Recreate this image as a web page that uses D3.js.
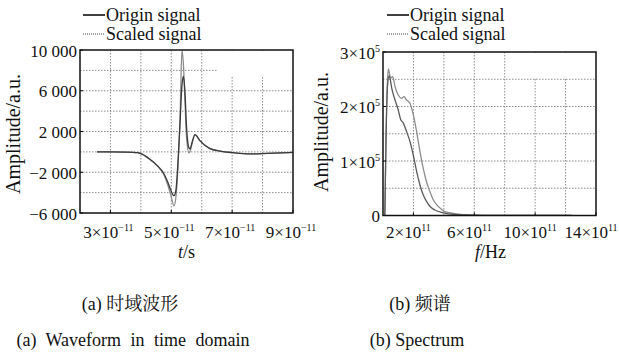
<!DOCTYPE html>
<html>
<head>
<meta charset="utf-8">
<script src="https://cdn.jsdelivr.net/npm/d3@7"></script>
<style>
  body { margin: 0; background: #fff; }
</style>
</head>
<body>
<div id="chart"></div>
<script>
// ----------- DATA ------------
// time domain, t in units of 1e-11 s
const timeT = [2.56, 3.0, 3.5, 3.9, 4.23, 4.56, 4.73, 4.89, 4.99, 5.09, 5.15, 5.22, 5.29, 5.35, 5.40, 5.45, 5.50, 5.58, 5.62, 5.68, 5.78, 5.94, 6.27, 6.6, 7.03, 7.59, 8.15, 9.0];
const originWave = [0, 0, -20, -80, -570, -1400, -2000, -3000, -3800, -4300, -3800, -1000, 3000, 6500, 7400, 5800, 2500, 400, 300, 900, 1700, 1100, 320, 80, -80, -200, -150, -50];
const scaledWave = [0, 0, -20, -80, -600, -1450, -2100, -3300, -4300, -5300, -4500, -1500, 3500, 10000, 8500, 5000, 1500, -100, 50, 800, 1700, 1100, 320, 80, -80, -200, -150, -50];

// spectrum, f in units of 1e11 Hz, amplitude in units of 1e5
const specFScaled = [0.12, 0.2, 0.3, 0.35, 0.50, 0.64, 0.79, 1.0, 1.22, 1.38, 1.55, 1.77, 1.99, 2.21, 2.43, 2.64, 2.86, 3.08, 3.30, 3.52, 3.74, 4.07, 4.61, 5.49, 7.0, 12.4];
const specScaled = [0, 1.5, 2.5, 2.69, 2.52, 2.55, 2.37, 2.21, 2.15, 2.18, 2.12, 2.06, 1.85, 1.54, 1.17, 0.87, 0.62, 0.44, 0.29, 0.20, 0.14, 0.07, 0.04, 0.01, 0, 0];
const specFOrigin = [0.12, 0.2, 0.3, 0.40, 0.46, 0.57, 0.79, 1.0, 1.16, 1.33, 1.55, 1.77, 1.99, 2.21, 2.43, 2.64, 2.86, 3.08, 3.41, 3.96, 4.61, 5.5, 7.0, 12.4];
const specOrigin = [0, 1.4, 2.4, 2.56, 2.52, 2.34, 2.12, 1.94, 1.76, 1.70, 1.54, 1.36, 1.11, 0.81, 0.56, 0.38, 0.26, 0.17, 0.10, 0.05, 0.02, 0.01, 0, 0];

const timeYTicks = [10000, 6000, 2000, -2000, -6000];
const timeYLabels = ['10 000', '6 000', '2 000', '\u22122 000', '\u22126 000'];
const timeXTicks = [3, 5, 7, 9];
const specYTicks = [3, 2, 1, 0];
const specXTicks = [2, 6, 10, 14];

const legendNames = ['Origin signal', 'Scaled signal'];
const captionTags = ['(a) ', '(b) '];
const captionsCn = ['时域波形', '频谱'];
const captionsEn = ['(a) Waveform in time domain', '(b) Spectrum'];

// ----------- SVG ------------
const svg = d3.select('#chart').append('svg').attr('width', 619).attr('height', 356);

const serif = 'Liberation Serif';
const originColor = '#3a3a3a';
const scaledColor = '#8c8c8c';
const gridColor = '#707070';

function panel(opts) {
  const x = d3.scaleLinear().domain(opts.xDomain).range([opts.x0, opts.x1]);
  const y = d3.scaleLinear().domain(opts.yDomain).range([opts.y1, opts.y0]);
  const g = svg.append('g').attr('font-family', serif);

  // grid
  g.append('g').selectAll('line').data(opts.gridX).enter().append('line')
    .attr('x1', d => x(d)).attr('x2', d => x(d))
    .attr('y1', opts.y0).attr('y2', opts.y1)
    .attr('stroke', gridColor).attr('stroke-width', 0.8).attr('stroke-dasharray', '1.5,1.5');
  g.append('g').selectAll('line').data(opts.gridY).enter().append('line')
    .attr('y1', d => y(d)).attr('y2', d => y(d))
    .attr('x1', opts.x0).attr('x2', opts.x1)
    .attr('stroke', gridColor).attr('stroke-width', 0.8).attr('stroke-dasharray', '1.5,1.5');

  // blank patch left by the original legend box
  g.append('rect')
    .attr('x', opts.mask[0]).attr('y', opts.y0 + 1)
    .attr('width', opts.x1 - opts.mask[0] - 1).attr('height', opts.mask[1] - opts.y0)
    .attr('fill', '#fff');

  // lines
  const clipId = 'clip' + opts.id;
  svg.append('clipPath').attr('id', clipId).append('rect')
    .attr('x', opts.x0).attr('y', opts.y0)
    .attr('width', opts.x1 - opts.x0).attr('height', opts.y1 - opts.y0);
  opts.series.forEach(s => {
    const line = d3.line().x((d, i) => x(s.xs[i])).y(d => y(d)).curve(d3.curveMonotoneX);
    g.append('path')
      .attr('d', line(s.ys))
      .attr('fill', 'none')
      .attr('stroke', s.color)
      .attr('stroke-width', 1.3)
      .attr('clip-path', `url(#${clipId})`);
  });

  // small inner ticks
  g.append('g').selectAll('line').data(opts.xTicks).enter().append('line')
    .attr('x1', d => x(d)).attr('x2', d => x(d))
    .attr('y1', opts.y1).attr('y2', opts.y1 - 3)
    .attr('stroke', '#000').attr('stroke-width', 1);
  g.append('g').selectAll('line').data(opts.yTicks).enter().append('line')
    .attr('y1', d => y(d)).attr('y2', d => y(d))
    .attr('x1', opts.x0).attr('x2', opts.x0 + 3)
    .attr('stroke', '#000').attr('stroke-width', 1);

  // frame
  g.append('rect')
    .attr('x', opts.x0).attr('y', opts.y0)
    .attr('width', opts.x1 - opts.x0).attr('height', opts.y1 - opts.y0)
    .attr('fill', 'none').attr('stroke', '#111').attr('stroke-width', 1.5);

  // y tick labels
  opts.yTicks.forEach((v, i) => {
    const t = g.append('text')
      .attr('x', opts.x0 - 3).attr('y', y(v) + 6.5)
      .attr('text-anchor', 'end').attr('font-size', 17).attr('fill', '#111');
    const lab = opts.yLabel(v, i);
    t.append('tspan').text(lab[0]);
    if (lab[1]) t.append('tspan').attr('font-size', 10).attr('dy', -7).text(lab[1]);
  });

  // x tick labels
  opts.xTicks.forEach(v => {
    const t = g.append('text')
      .attr('x', x(v) + opts.xLabelShift).attr('y', 238)
      .attr('text-anchor', 'middle').attr('font-size', 17).attr('fill', '#111');
    t.append('tspan').text(v + '\u00d710');
    t.append('tspan').attr('font-size', 10).attr('dy', -7).text(opts.xExp);
  });

  // axis titles
  const xt = g.append('text')
    .attr('x', (opts.x0 + opts.x1) / 2 + opts.xTitleShift).attr('y', 258)
    .attr('text-anchor', 'middle').attr('font-size', 18).attr('fill', '#111');
  xt.append('tspan').attr('font-style', 'italic').text(opts.xTitle[0]);
  xt.append('tspan').text(opts.xTitle[1]);

  g.append('text')
    .attr('transform', `translate(${opts.yTitleX},${opts.yTitleY}) rotate(-90)`)
    .attr('text-anchor', 'middle').attr('font-size', 20).attr('fill', '#111')
    .text('Amplitude/a.u.');

  // legend
  legendNames.forEach((name, i) => {
    const ly = 15 + i * 19;
    g.append('line')
      .attr('x1', opts.legendX).attr('x2', opts.legendX + 22)
      .attr('y1', ly).attr('y2', ly)
      .attr('stroke', i === 0 ? '#111' : '#444')
      .attr('stroke-width', i === 0 ? 1.6 : 1)
      .attr('stroke-dasharray', i === 0 ? null : '1,1');
    g.append('text')
      .attr('x', opts.legendX + 23).attr('y', ly + 6)
      .attr('font-size', 18).attr('fill', '#111')
      .text(name);
  });
}

panel({
  id: 'a',
  x0: 80, x1: 293, y0: 50, y1: 213,
  xDomain: [2, 9], yDomain: [-6000, 10000],
  gridX: [3, 4, 5, 6, 7, 8], gridY: [-4000, -2000, 0, 2000, 4000, 6000, 8000],
  mask: [218, 76],
  xTicks: timeXTicks, yTicks: timeYTicks,
  yLabel: (v, i) => [timeYLabels[i]],
  xExp: '\u221211', xLabelShift: -2,
  xTitle: ['t', '/s'], xTitleShift: 0,
  yTitleX: 20, yTitleY: 134,
  legendX: 83,
  series: [
    { xs: timeT, ys: scaledWave, color: scaledColor },
    { xs: timeT, ys: originWave, color: originColor }
  ]
});

panel({
  id: 'b',
  x0: 383, x1: 596, y0: 52, y1: 215.5,
  xDomain: [0, 14], yDomain: [0, 3],
  gridX: [2, 4, 6, 8, 10, 12], gridY: [0.5, 1, 1.5, 2, 2.5],
  mask: [510, 77],
  xTicks: specXTicks, yTicks: specYTicks,
  yLabel: v => v === 0 ? ['0'] : [v + '\u00d710', '5'],
  xExp: '11', xLabelShift: -5,
  xTitle: ['f', '/Hz'], xTitleShift: 1,
  yTitleX: 328, yTitleY: 132,
  legendX: 387,
  series: [
    { xs: specFScaled, ys: specScaled, color: scaledColor },
    { xs: specFOrigin, ys: specOrigin, color: '#5a5a5a' }
  ]
});

// ----------- CAPTIONS ------------
const capCn = svg.selectAll('.capCn').data(captionsCn).enter().append('text')
  .attr('class', 'capCn')
  .attr('x', (d, i) => i === 0 ? 130 : 420).attr('y', 310)
  .attr('text-anchor', 'middle').attr('font-size', 18).attr('fill', '#111');
capCn.append('tspan').attr('font-family', serif).text((d, i) => captionTags[i]);
capCn.append('tspan').attr('font-family', 'Noto Serif CJK SC').text(d => d);

svg.selectAll('.capEn').data(captionsEn).enter().append('text')
  .attr('class', 'capEn')
  .attr('x', (d, i) => i === 0 ? 133 : 417).attr('y', 346)
  .attr('text-anchor', 'middle').attr('font-size', 18).attr('fill', '#111')
  .attr('font-family', serif)
  .attr('word-spacing', (d, i) => i === 0 ? 5 : 0)
  .text(d => d);
</script>
</body>
</html>
